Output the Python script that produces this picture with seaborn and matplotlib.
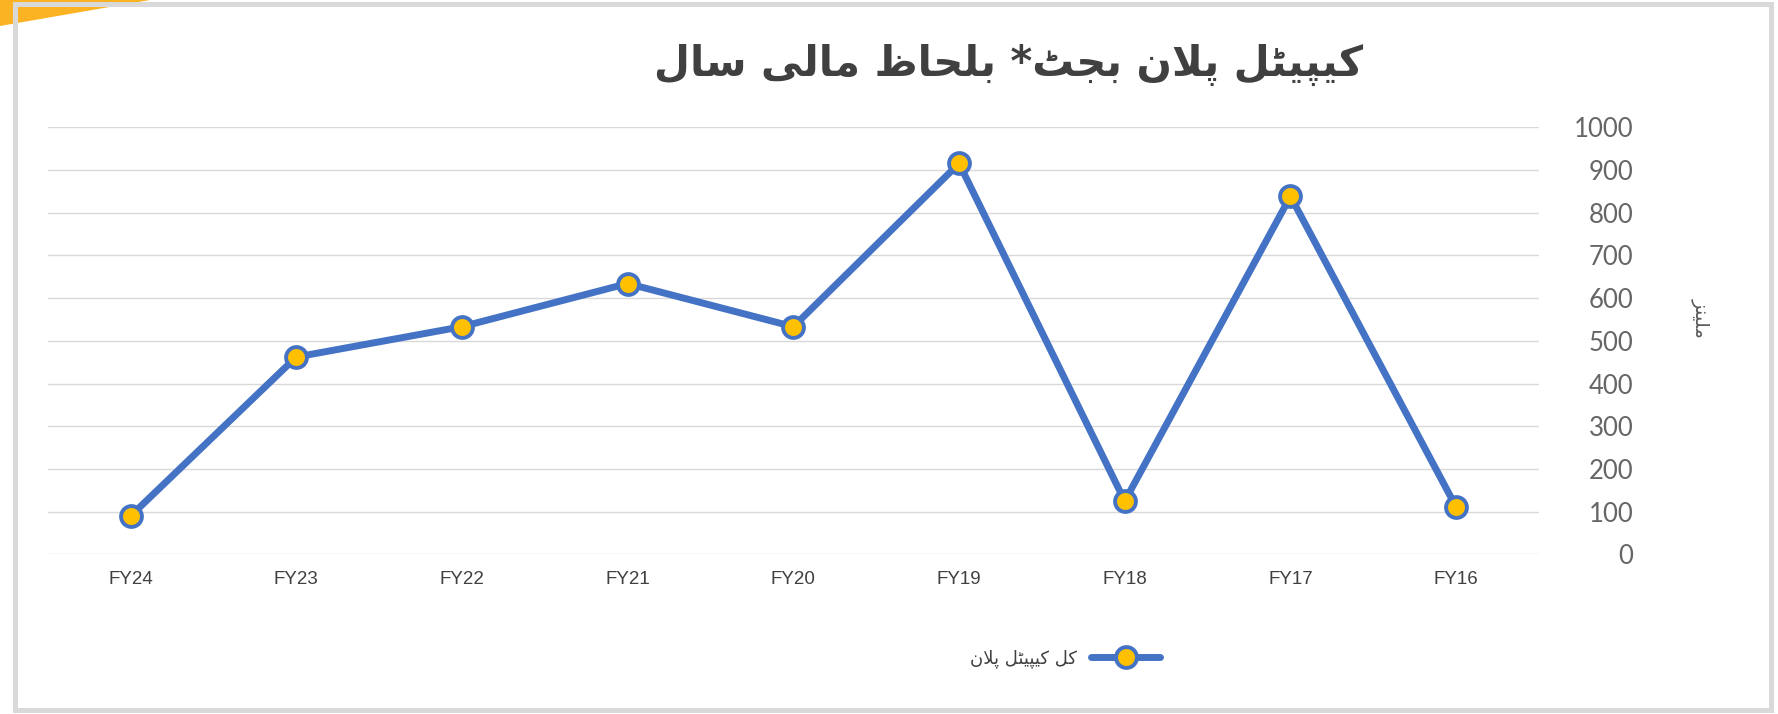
import matplotlib
matplotlib.use("Agg")
from matplotlib import pyplot as plt
import matplotlib.patches as mpatches
import pandas as pd
import seaborn as sns

years = ["FY24", "FY23", "FY22", "FY21", "FY20", "FY19", "FY18", "FY17", "FY16"]
budget = [90, 462, 533, 634, 533, 915, 125, 838, 111]
yticks = [0, 100, 200, 300, 400, 500, 600, 700, 800, 900, 1000]

title_text = "کیپیٹل پلان بجٹ* بلحاظ مالی سال"
legend_text = "کل کیپیٹل پلان"
ylabel_text = "ملینز"

LINE_BLUE = "#4472C4"
MARKER_YELLOW = "#FFC000"
TEXT_GRAY = "#595959"

# presentation forms: isolated, final, initial, medial
FORMS = {
    "ا": ("\uFE8D", "\uFE8E", None, None),
    "ب": ("\uFE8F", "\uFE90", "\uFE91", "\uFE92"),
    "ج": ("\uFE9D", "\uFE9E", "\uFE9F", "\uFEA0"),
    "ح": ("\uFEA1", "\uFEA2", "\uFEA3", "\uFEA4"),
    "ز": ("\uFEAF", "\uFEB0", None, None),
    "س": ("\uFEB1", "\uFEB2", "\uFEB3", "\uFEB4"),
    "ظ": ("\uFEC5", "\uFEC6", "\uFEC7", "\uFEC8"),
    "ل": ("\uFEDD", "\uFEDE", "\uFEDF", "\uFEE0"),
    "م": ("\uFEE1", "\uFEE2", "\uFEE3", "\uFEE4"),
    "ن": ("\uFEE5", "\uFEE6", "\uFEE7", "\uFEE8"),
    "پ": ("\uFB56", "\uFB57", "\uFB58", "\uFB59"),
    "ٹ": ("\uFB66", "\uFB67", "\uFB68", "\uFB69"),
    "ک": ("\uFB8E", "\uFB8F", "\uFB90", "\uFB91"),
    "ی": ("\uFBFC", "\uFBFD", "\uFBFE", "\uFBFF"),
}


def shape_rtl(text):
    # tiny arabic-script shaper: contextual forms, lam-alef, then reverse
    chars = list(text)
    out = []
    i = 0
    while i < len(chars):
        ch = chars[i]
        if ch not in FORMS:
            out.append(ch)
            i += 1
            continue
        prev = chars[i - 1] if i > 0 else None
        join_prev = prev in FORMS and FORMS[prev][2] is not None
        if ch == "ل" and i + 1 < len(chars) and chars[i + 1] == "ا":
            out.append("\uFEFC" if join_prev else "\uFEFB")
            i += 2
            continue
        nxt = chars[i + 1] if i + 1 < len(chars) else None
        join_next = nxt in FORMS and FORMS[ch][2] is not None
        iso, fin, ini, med = FORMS[ch]
        if join_prev and join_next:
            out.append(med)
        elif join_prev:
            out.append(fin)
        elif join_next:
            out.append(ini)
        else:
            out.append(iso)
        i += 1
    return "".join(out[::-1])


sns.set_theme(style="white")
plt.rcParams["font.family"] = ["DejaVu Sans"]

df = pd.DataFrame({"year": years, "budget": budget})

fig = plt.figure(figsize=(17.78, 7.14), dpi=100)
ax = fig.add_axes([0.0268, 0.2234, 0.8388, 0.5986])

sns.lineplot(data=df, x="year", y="budget", sort=False, ax=ax,
             color=LINE_BLUE, linewidth=5, marker="o", markersize=15,
             markerfacecolor=MARKER_YELLOW, markeredgecolor=LINE_BLUE,
             markeredgewidth=2.8, label=shape_rtl(legend_text), zorder=5)

ax.set_xlim(-0.5, len(years) - 0.5)
ax.set_ylim(0, 1000)
ax.set_yticks(yticks)
ax.yaxis.tick_right()
ax.grid(axis="y", color="#d9d9d9", linewidth=1)
ax.grid(axis="x", visible=False)
for s in ax.spines.values():
    s.set_visible(False)

ax.tick_params(axis="y", length=0, pad=68, labelsize=18.5, labelcolor="#666666")
ax.tick_params(axis="x", length=0, pad=12, labelsize=13.5, labelcolor="#404040")
for lab in ax.get_yticklabels():
    lab.set_horizontalalignment("right")
    lab.set_fontfamily("Lato")
for lab in ax.get_xticklabels():
    lab.set_fontfamily("Liberation Sans")
ax.set_xlabel("")
ax.set_ylabel("")

fig.text(1701 / 1778, 1 - 318 / 714, shape_rtl(ylabel_text), rotation=-90,
         ha="center", va="center", fontsize=14, color=TEXT_GRAY)

fig.text(1009 / 1778, 1 - 65 / 714, shape_rtl(title_text), ha="center",
         va="center", fontsize=30, fontweight="bold", color="#404040")

handles, labels = ax.get_legend_handles_labels()
ax.get_legend().remove()
fig.legend(handles, labels, loc="center", bbox_to_anchor=(0.599, 0.077),
           frameon=False, markerfirst=False, handlelength=3.8,
           prop={"size": 13}, labelcolor="#404040")

# decorative orange corner and slide frame
fig.patches.append(mpatches.Polygon(
    [(0, 1), (150 / 1778, 1), (0, 1 - 26 / 714)], closed=True,
    transform=fig.transFigure, facecolor="#FBB323", edgecolor="none", zorder=0))
fig.patches.append(mpatches.Rectangle(
    (15 / 1778, 4 / 714), 1756 / 1778, 706 / 714, transform=fig.transFigure,
    fill=False, edgecolor="#d9d9d9", linewidth=3.6, zorder=1))

fig.savefig("out.png", dpi=100)
